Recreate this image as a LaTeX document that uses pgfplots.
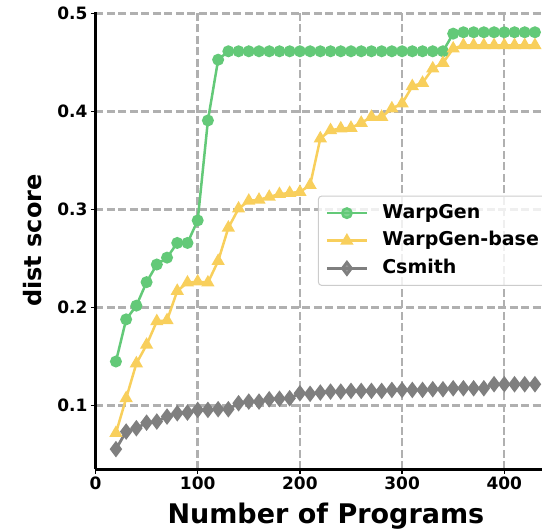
\documentclass[border=0pt]{standalone}
\usepackage{fontspec}
\setmainfont{DejaVu Sans}
\usepackage{pgfplots}
\pgfplotsset{compat=1.18}
\definecolor{wgreen}{HTML}{63C978}
\definecolor{wyellow}{HTML}{F8CF5C}
\definecolor{wgray}{HTML}{7F7F7F}
\definecolor{gridgray}{HTML}{B0B0B0}

\begin{document}
\begin{tikzpicture}
\begin{axis}[
    at={(95.5pt,62.7pt)}, anchor=south west,
    scale only axis, width=446.5pt, height=457.6pt,
    xmin=0, xmax=436.9, ymin=0.035, ymax=0.502,
    axis x line*=bottom, axis y line*=left,
    axis line style={line width=3pt, -},
    xtick={0,100,200,300,400},
    ytick={0.1,0.2,0.3,0.4,0.5},
    yticklabels={0.1,0.2,0.3,0.4,0.5},
    tick align=outside, major tick length=4.5pt,
    tick style={line width=1.5pt, black},
    grid=major,
    grid style={gridgray, line width=2.4pt, dash pattern=on 8pt off 3.5pt},
    /pgf/number format/assume math mode=true,
    ticklabel style={font=\fontsize{17}{17}\selectfont\bfseries},
    xlabel={Number of Programs},
    xlabel style={at={(axis description cs:0.516,-0.1195)}, anchor=base,
        font=\fontsize{27}{27}\selectfont\bfseries},
    ylabel={dist score},
    ylabel style={at={(axis description cs:-0.1205,0.5)}, anchor=base, rotate=0,
        font=\fontsize{24}{24}\selectfont\bfseries},
    legend cell align=left,
    legend image code/.code={%
        \path (0pt,-7pt) (54pt,7pt);
        \draw[mark repeat=2, mark phase=2, #1] plot coordinates {(0pt,0pt) (20pt,0pt) (40pt,0pt)};},
    legend style={at={(axis description cs:0.4983,0.598)}, anchor=north west,
        draw=gray!40, line width=1pt, rounded corners=3pt,
        fill=white, fill opacity=0.8, text opacity=1,
        font=\fontsize{19}{19}\selectfont\bfseries,
        inner xsep=7pt, inner ysep=8pt, row sep=9.6pt,
        nodes={inner sep=0pt, text height=14pt, text depth=4pt}},
]
% WarpGen
\addplot[wgreen, line width=2.5pt, mark=*, mark size=4.7pt, mark options={solid}] coordinates {
    (20,0.145) (30,0.188) (40,0.202) (50,0.226) (60,0.244) (70,0.251) (80,0.266) (90,0.266)
    (100,0.289) (110,0.391) (120,0.453) (130,0.4616) (140,0.4616) (150,0.4616) (160,0.4616)
    (170,0.4616) (180,0.4616) (190,0.4616) (200,0.4616) (210,0.4616) (220,0.4616) (230,0.4616)
    (240,0.4616) (250,0.4616) (260,0.4616) (270,0.4616) (280,0.4616) (290,0.4616) (300,0.4616)
    (310,0.4616) (320,0.4616) (330,0.4616) (340,0.4616) (350,0.4796) (360,0.481) (370,0.481)
    (380,0.481) (390,0.481) (400,0.481) (410,0.481) (420,0.481) (430,0.481)
};
\addlegendentry{WarpGen}
% WarpGen-base
\addplot[wyellow, line width=2.5pt, mark=triangle*, mark size=5.2pt, mark options={solid}] coordinates {
    (20,0.072) (30,0.1075) (40,0.143) (50,0.162) (60,0.186) (70,0.187) (80,0.217) (90,0.2255)
    (100,0.2265) (110,0.2255) (120,0.2475) (130,0.2815) (140,0.301) (150,0.309) (160,0.310)
    (170,0.313) (180,0.3158) (190,0.317) (200,0.318) (210,0.325) (220,0.3726) (230,0.381)
    (240,0.3828) (250,0.3834) (260,0.3885) (270,0.3946) (280,0.3946) (290,0.4032) (300,0.4083)
    (310,0.4259) (320,0.4293) (330,0.444) (340,0.4497) (350,0.4643) (360,0.4677) (370,0.4677)
    (380,0.4677) (390,0.4677) (400,0.4677) (410,0.4677) (420,0.4677) (430,0.4677)
};
\addlegendentry{WarpGen-base}
% Csmith
\addplot[wgray, line width=2.8pt, mark=diamond*, mark size=6pt, mark options={solid}] coordinates {
    (20,0.0556) (30,0.0735) (40,0.0769) (50,0.0826) (60,0.0837) (70,0.0888) (80,0.0922) (90,0.0929)
    (100,0.0956) (110,0.0956) (120,0.0963) (130,0.0963) (140,0.1024) (150,0.1041) (160,0.1041)
    (170,0.1065) (180,0.107) (190,0.1075) (200,0.1126) (210,0.112) (220,0.1133) (230,0.1143)
    (240,0.1143) (250,0.115) (260,0.115) (270,0.115) (280,0.115) (290,0.116) (300,0.116)
    (310,0.116) (320,0.116) (330,0.1167) (340,0.1167) (350,0.1177) (360,0.1177) (370,0.1177)
    (380,0.1177) (390,0.1218) (400,0.1218) (410,0.1218) (420,0.1218) (430,0.1218)
};
\addlegendentry{Csmith}
\end{axis}
\pgfresetboundingbox
\useasboundingbox (0,0) rectangle (542pt,532pt);
\end{tikzpicture}
\end{document}
